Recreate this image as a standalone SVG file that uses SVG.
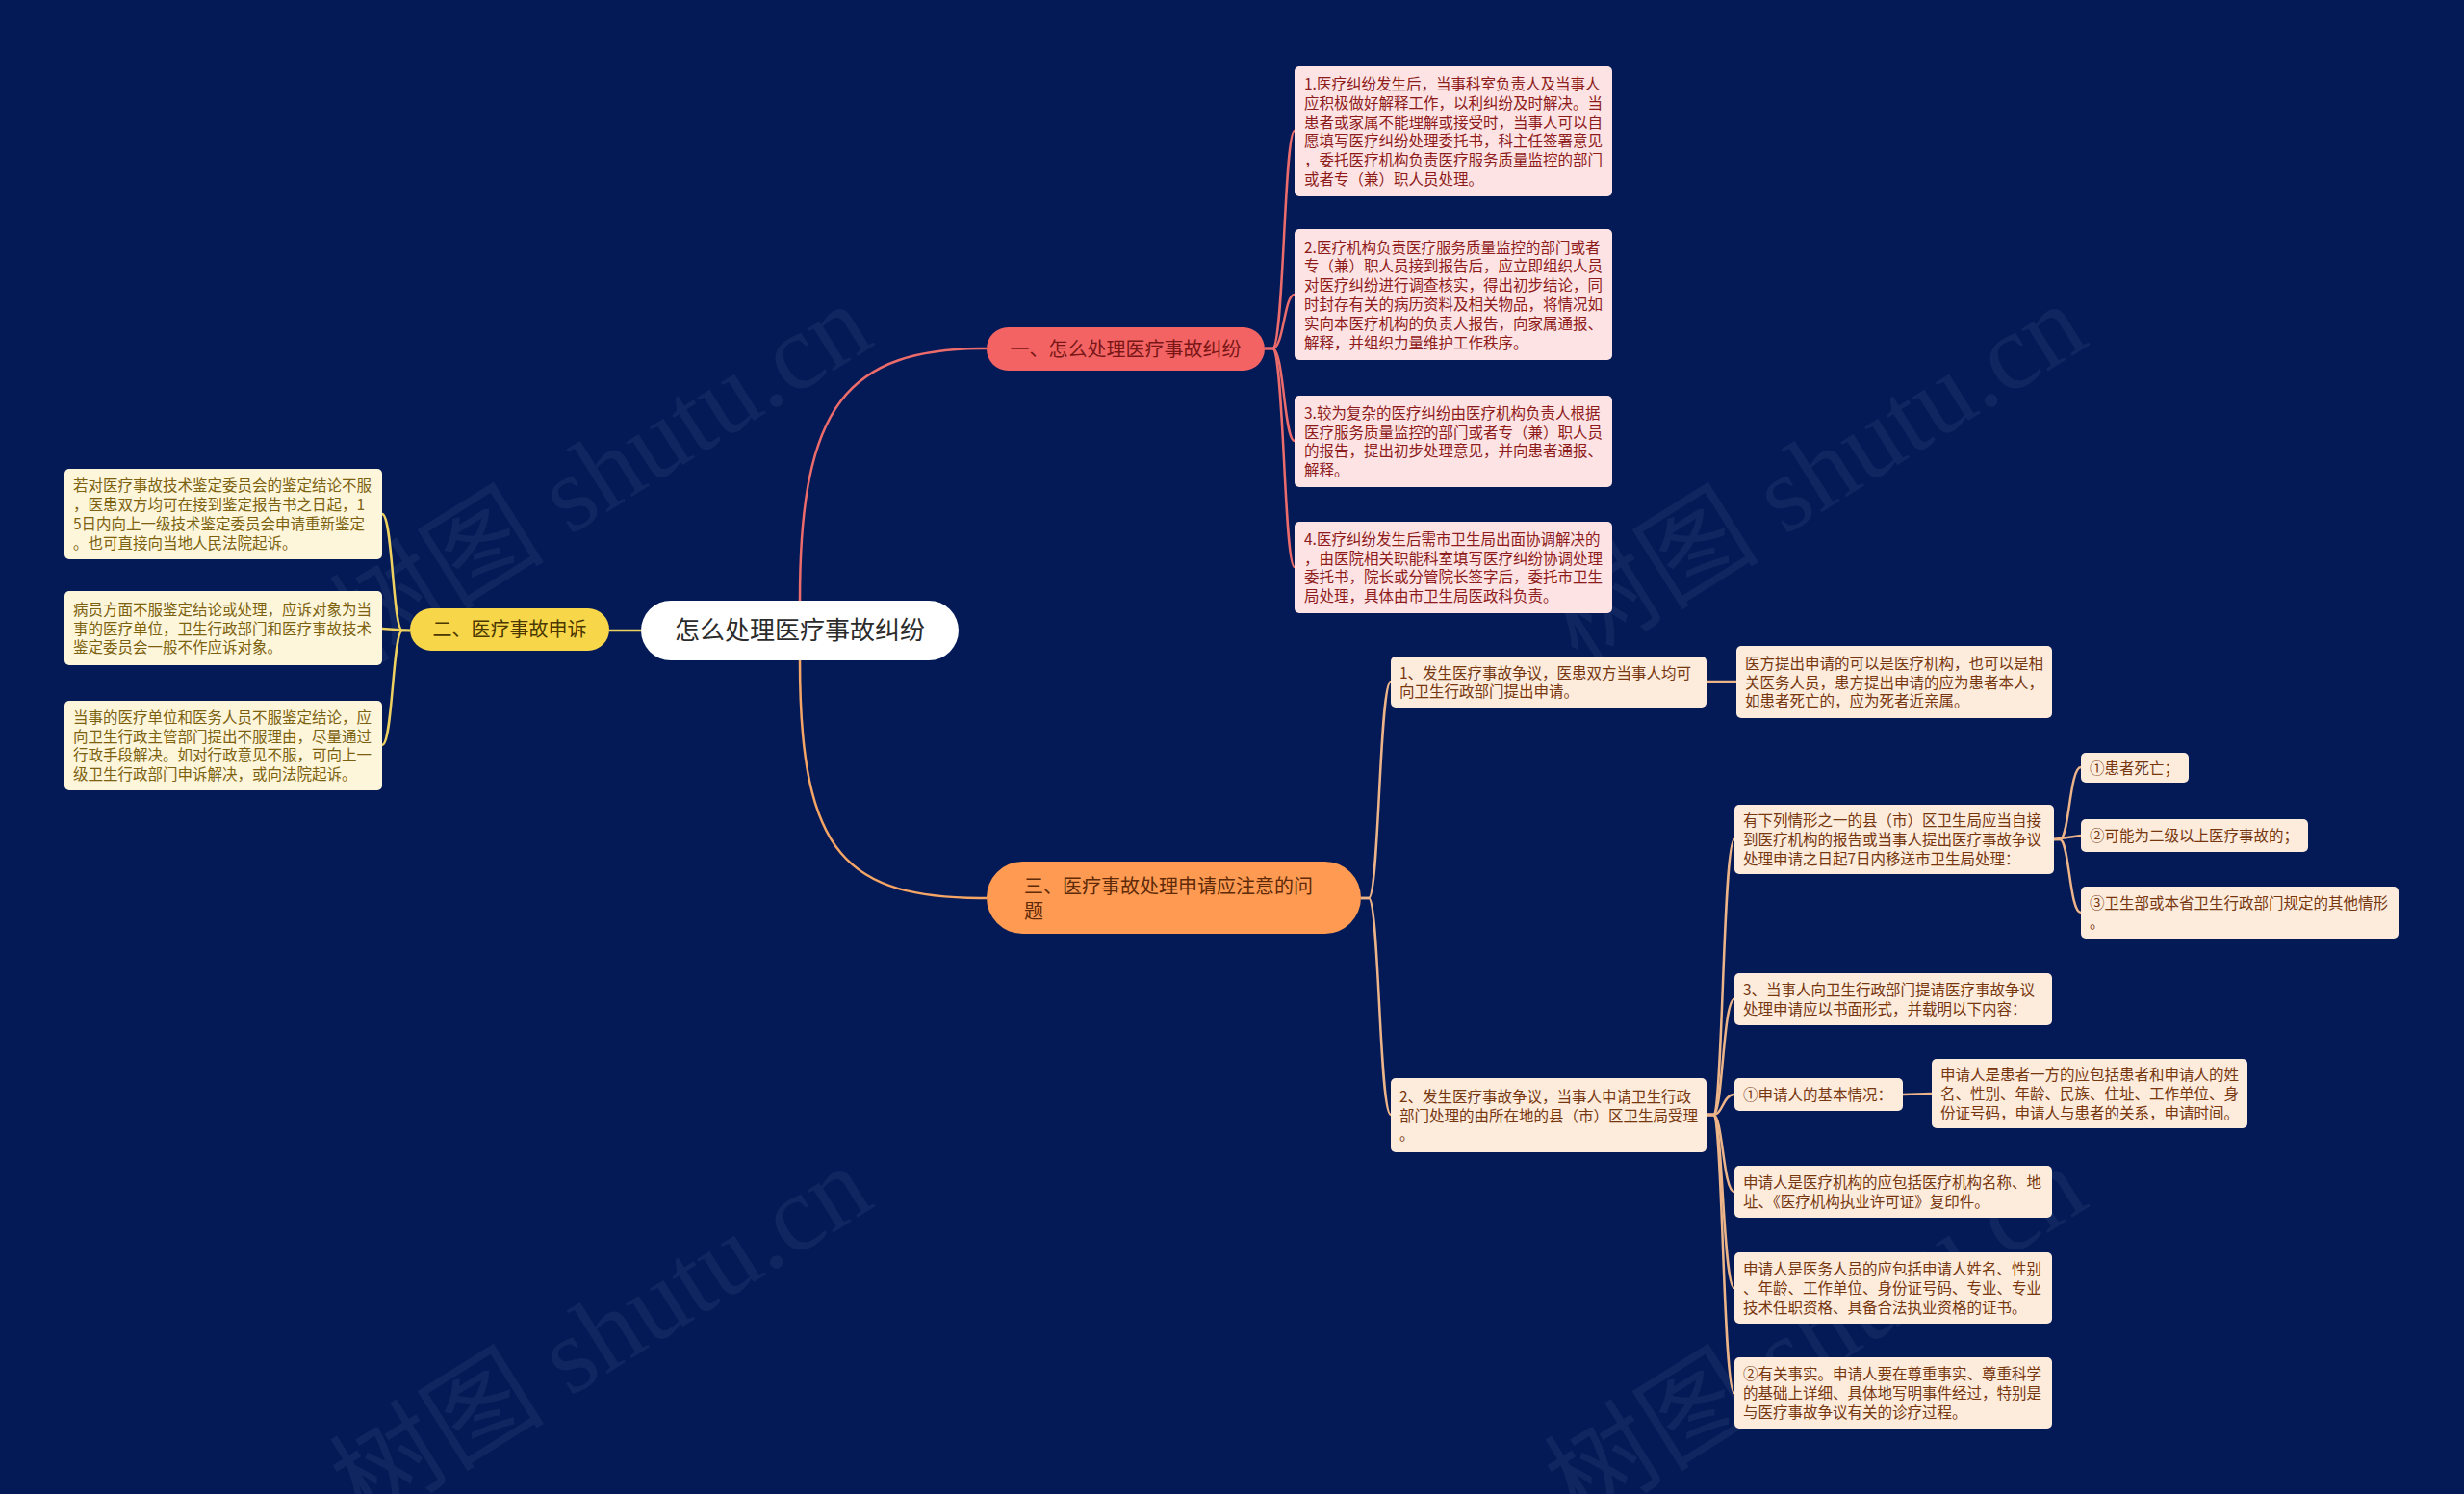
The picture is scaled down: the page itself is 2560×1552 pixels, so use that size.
<svg xmlns="http://www.w3.org/2000/svg" width="2560" height="1552" viewBox="0 0 2560 1552">
<style>
text{font-family:"Noto Sans CJK SC","Noto Sans",sans-serif;}
.t{font-size:15.5px;}
.tp{fill:#8e1b1b;}
.ty{fill:#7c6210;}
.to{fill:#76370f;}
.lp{fill:#fde3e3;}
.ly{fill:#fef6da;}
.lo{fill:#fdebdc;}
.er{fill:none;stroke:#ec6b6b;stroke-width:2.5;}
.ey{fill:none;stroke:#efd160;stroke-width:2.5;}
.eo{fill:none;stroke:#f5a565;stroke-width:2.5;}
.el{fill:none;stroke:#ecb488;stroke-width:2.5;}
.wm{font-family:"Liberation Serif","Noto Sans CJK SC",serif;font-size:112px;fill:#ffffff;opacity:0.05;}
</style>
<rect width="2560" height="1552" fill="#031a57"/>
<g id="watermarks">
<text class="wm" transform="translate(378,690) rotate(-32)">树图 shutu.cn</text>
<text class="wm" transform="translate(1640,690) rotate(-32)">树图 shutu.cn</text>
<text class="wm" transform="translate(378,1585) rotate(-32)">树图 shutu.cn</text>
<text class="wm" transform="translate(1640,1585) rotate(-32)">树图 shutu.cn</text>
</g>
<g id="connectors">
<path class="er" d="M831 624 C831 420 880 362 1025 362"/>
<path class="eo" d="M831 686 C831 890 880 933 1025 933"/>
<path class="ey" d="M666 655 L633 655"/>
<path class="er" d="M1314 362 L1322 362 C1334 362 1334 136 1345 136"/>
<path class="er" d="M1314 362 L1322 362 C1334 362 1334 306 1345 306"/>
<path class="er" d="M1314 362 L1322 362 C1334 362 1334 458 1345 458"/>
<path class="er" d="M1314 362 L1322 362 C1334 362 1334 589 1345 589"/>
<path class="ey" d="M426 655 L418 655 C408 655 408 534 397 534"/>
<path class="ey" d="M426 655 L397 653"/>
<path class="ey" d="M426 655 L418 655 C408 655 408 774 397 774"/>
<path class="el" d="M1414 933 L1422 933 C1433 933 1433 708 1445 708"/>
<path class="el" d="M1414 933 L1422 933 C1433 933 1433 1158 1445 1158"/>
<path class="el" d="M1773 708 L1804 708"/>
<path class="el" d="M1773 1158 L1780 1158 C1790 1158 1790 872 1802 872"/>
<path class="el" d="M1773 1158 L1780 1158 C1790 1158 1790 1038 1802 1038"/>
<path class="el" d="M1773 1158 L1780 1158 C1790 1158 1790 1137 1802 1137"/>
<path class="el" d="M1773 1158 L1780 1158 C1790 1158 1790 1238 1802 1238"/>
<path class="el" d="M1773 1158 L1780 1158 C1790 1158 1790 1338 1802 1338"/>
<path class="el" d="M1773 1158 L1780 1158 C1790 1158 1790 1447 1802 1447"/>
<path class="el" d="M2134 872 L2140 872 C2150 872 2150 797 2162 797"/>
<path class="el" d="M2134 872 L2162 868"/>
<path class="el" d="M2134 872 L2140 872 C2150 872 2150 948 2162 948"/>
<path class="el" d="M1977 1137 L2007 1136"/>
</g>
<g id="root">
<rect x="666" y="624" width="330" height="62" rx="31" fill="#ffffff"/>
<text x="831" y="664" font-size="26" fill="#2b2b2b" text-anchor="middle">怎么处理医疗事故纠纷</text>
</g>
<g id="b1">
<rect x="1025" y="340" width="289" height="45" rx="22.5" fill="#f36363"/>
<text x="1169.5" y="369.5" font-size="20" fill="#7a1616" text-anchor="middle">一、怎么处理医疗事故纠纷</text>
</g>
<g id="b2">
<rect x="426" y="632" width="207" height="44" rx="22" fill="#f8d649"/>
<text x="529.5" y="661" font-size="20" fill="#4a3800" text-anchor="middle">二、医疗事故申诉</text>
</g>
<g id="b3">
<rect x="1025" y="895" width="389" height="75" rx="37.5" fill="#fe9a52"/>
<text font-size="20" fill="#5e2a08"><tspan x="1064" y="928">三、医疗事故处理申请应注意的问</tspan><tspan x="1064" y="954">题</tspan></text>
</g>
<g id="l1">
<rect class="lp" x="1345" y="69" width="330" height="135" rx="5"/>
<text class="t tp"><tspan x="1355" y="93">1.医疗纠纷发生后，当事科室负责人及当事人</tspan><tspan x="1355" y="112.8">应积极做好解释工作，以利纠纷及时解决。当</tspan><tspan x="1355" y="132.6">患者或家属不能理解或接受时，当事人可以自</tspan><tspan x="1355" y="152.4">愿填写医疗纠纷处理委托书，科主任签署意见</tspan><tspan x="1355" y="172.2">，委托医疗机构负责医疗服务质量监控的部门</tspan><tspan x="1355" y="192">或者专（兼）职人员处理。</tspan></text>
</g>
<g id="l2">
<rect class="lp" x="1345" y="238" width="330" height="136" rx="5"/>
<text class="t tp"><tspan x="1355" y="262.5">2.医疗机构负责医疗服务质量监控的部门或者</tspan><tspan x="1355" y="282.3">专（兼）职人员接到报告后，应立即组织人员</tspan><tspan x="1355" y="302.1">对医疗纠纷进行调查核实，得出初步结论，同</tspan><tspan x="1355" y="321.9">时封存有关的病历资料及相关物品，将情况如</tspan><tspan x="1355" y="341.7">实向本医疗机构的负责人报告，向家属通报、</tspan><tspan x="1355" y="361.5">解释，并组织力量维护工作秩序。</tspan></text>
</g>
<g id="l3">
<rect class="lp" x="1345" y="411" width="330" height="95" rx="5"/>
<text class="t tp"><tspan x="1355" y="434.8">3.较为复杂的医疗纠纷由医疗机构负责人根据</tspan><tspan x="1355" y="454.6">医疗服务质量监控的部门或者专（兼）职人员</tspan><tspan x="1355" y="474.4">的报告，提出初步处理意见，并向患者通报、</tspan><tspan x="1355" y="494.2">解释。</tspan></text>
</g>
<g id="l4">
<rect class="lp" x="1345" y="542" width="330" height="95" rx="5"/>
<text class="t tp"><tspan x="1355" y="565.8">4.医疗纠纷发生后需市卫生局出面协调解决的</tspan><tspan x="1355" y="585.6">，由医院相关职能科室填写医疗纠纷协调处理</tspan><tspan x="1355" y="605.4">委托书，院长或分管院长签字后，委托市卫生</tspan><tspan x="1355" y="625.2">局处理，具体由市卫生局医政科负责。</tspan></text>
</g>
<g id="y1">
<rect class="ly" x="67" y="487" width="330" height="94" rx="5"/>
<text class="t ty"><tspan x="76" y="510.3">若对医疗事故技术鉴定委员会的鉴定结论不服</tspan><tspan x="76" y="530.1">，医患双方均可在接到鉴定报告书之日起，1</tspan><tspan x="76" y="549.9">5日内向上一级技术鉴定委员会申请重新鉴定</tspan><tspan x="76" y="569.7">。也可直接向当地人民法院起诉。</tspan></text>
</g>
<g id="y2">
<rect class="ly" x="67" y="614" width="330" height="77" rx="5"/>
<text class="t ty"><tspan x="76" y="638.7">病员方面不服鉴定结论或处理，应诉对象为当</tspan><tspan x="76" y="658.5">事的医疗单位，卫生行政部门和医疗事故技术</tspan><tspan x="76" y="678.3">鉴定委员会一般不作应诉对象。</tspan></text>
</g>
<g id="y3">
<rect class="ly" x="67" y="728" width="330" height="93" rx="5"/>
<text class="t ty"><tspan x="76" y="750.8">当事的医疗单位和医务人员不服鉴定结论，应</tspan><tspan x="76" y="770.6">向卫生行政主管部门提出不服理由，尽量通过</tspan><tspan x="76" y="790.4">行政手段解决。如对行政意见不服，可向上一</tspan><tspan x="76" y="810.2">级卫生行政部门申诉解决，或向法院起诉。</tspan></text>
</g>
<g id="o1">
<rect class="lo" x="1445" y="682" width="328" height="53" rx="5"/>
<text class="t to"><tspan x="1454" y="704.6">1、发生医疗事故争议，医患双方当事人均可</tspan><tspan x="1454" y="724.4">向卫生行政部门提出申请。</tspan></text>
</g>
<g id="o1c">
<rect class="lo" x="1804" y="671" width="328" height="75" rx="5"/>
<text class="t to"><tspan x="1813" y="694.7">医方提出申请的可以是医疗机构，也可以是相</tspan><tspan x="1813" y="714.5">关医务人员，患方提出申请的应为患者本人，</tspan><tspan x="1813" y="734.3">如患者死亡的，应为死者近亲属。</tspan></text>
</g>
<g id="o2">
<rect class="lo" x="1445" y="1120" width="328" height="77" rx="5"/>
<text class="t to"><tspan x="1454" y="1144.7">2、发生医疗事故争议，当事人申请卫生行政</tspan><tspan x="1454" y="1164.5">部门处理的由所在地的县（市）区卫生局受理</tspan><tspan x="1454" y="1184.3">。</tspan></text>
</g>
<g id="oa">
<rect class="lo" x="1802" y="836" width="332" height="72" rx="5"/>
<text class="t to"><tspan x="1811" y="858.2">有下列情形之一的县（市）区卫生局应当自接</tspan><tspan x="1811" y="878">到医疗机构的报告或当事人提出医疗事故争议</tspan><tspan x="1811" y="897.8">处理申请之日起7日内移送市卫生局处理：</tspan></text>
</g>
<g id="oa1">
<rect class="lo" x="2162" y="782" width="112" height="31" rx="5"/>
<text class="t to" x="2171" y="803.5">①患者死亡；</text>
</g>
<g id="oa2">
<rect class="lo" x="2162" y="851" width="236" height="34" rx="5"/>
<text class="t to" x="2171" y="874">②可能为二级以上医疗事故的；</text>
</g>
<g id="oa3">
<rect class="lo" x="2162" y="921" width="330" height="54" rx="5"/>
<text class="t to"><tspan x="2171" y="944.1">③卫生部或本省卫生行政部门规定的其他情形</tspan><tspan x="2171" y="963.9">。</tspan></text>
</g>
<g id="ob">
<rect class="lo" x="1802" y="1011" width="330" height="54" rx="5"/>
<text class="t to"><tspan x="1811" y="1034.1">3、当事人向卫生行政部门提请医疗事故争议</tspan><tspan x="1811" y="1053.9">处理申请应以书面形式，并载明以下内容：</tspan></text>
</g>
<g id="oc">
<rect class="lo" x="1802" y="1120" width="175" height="34" rx="5"/>
<text class="t to" x="1811" y="1143">①申请人的基本情况：</text>
</g>
<g id="oc1">
<rect class="lo" x="2007" y="1100" width="328" height="72" rx="5"/>
<text class="t to"><tspan x="2016" y="1122.2">申请人是患者一方的应包括患者和申请人的姓</tspan><tspan x="2016" y="1142">名、性别、年龄、民族、住址、工作单位、身</tspan><tspan x="2016" y="1161.8">份证号码，申请人与患者的关系，申请时间。</tspan></text>
</g>
<g id="od">
<rect class="lo" x="1802" y="1211" width="330" height="54" rx="5"/>
<text class="t to"><tspan x="1811" y="1234.1">申请人是医疗机构的应包括医疗机构名称、地</tspan><tspan x="1811" y="1253.9">址、《医疗机构执业许可证》复印件。</tspan></text>
</g>
<g id="oe">
<rect class="lo" x="1802" y="1301" width="330" height="74" rx="5"/>
<text class="t to"><tspan x="1811" y="1324.2">申请人是医务人员的应包括申请人姓名、性别</tspan><tspan x="1811" y="1344">、年龄、工作单位、身份证号码、专业、专业</tspan><tspan x="1811" y="1363.8">技术任职资格、具备合法执业资格的证书。</tspan></text>
</g>
<g id="of">
<rect class="lo" x="1802" y="1410" width="330" height="74" rx="5"/>
<text class="t to"><tspan x="1811" y="1433.2">②有关事实。申请人要在尊重事实、尊重科学</tspan><tspan x="1811" y="1453">的基础上详细、具体地写明事件经过，特别是</tspan><tspan x="1811" y="1472.8">与医疗事故争议有关的诊疗过程。</tspan></text>
</g>
</svg>
